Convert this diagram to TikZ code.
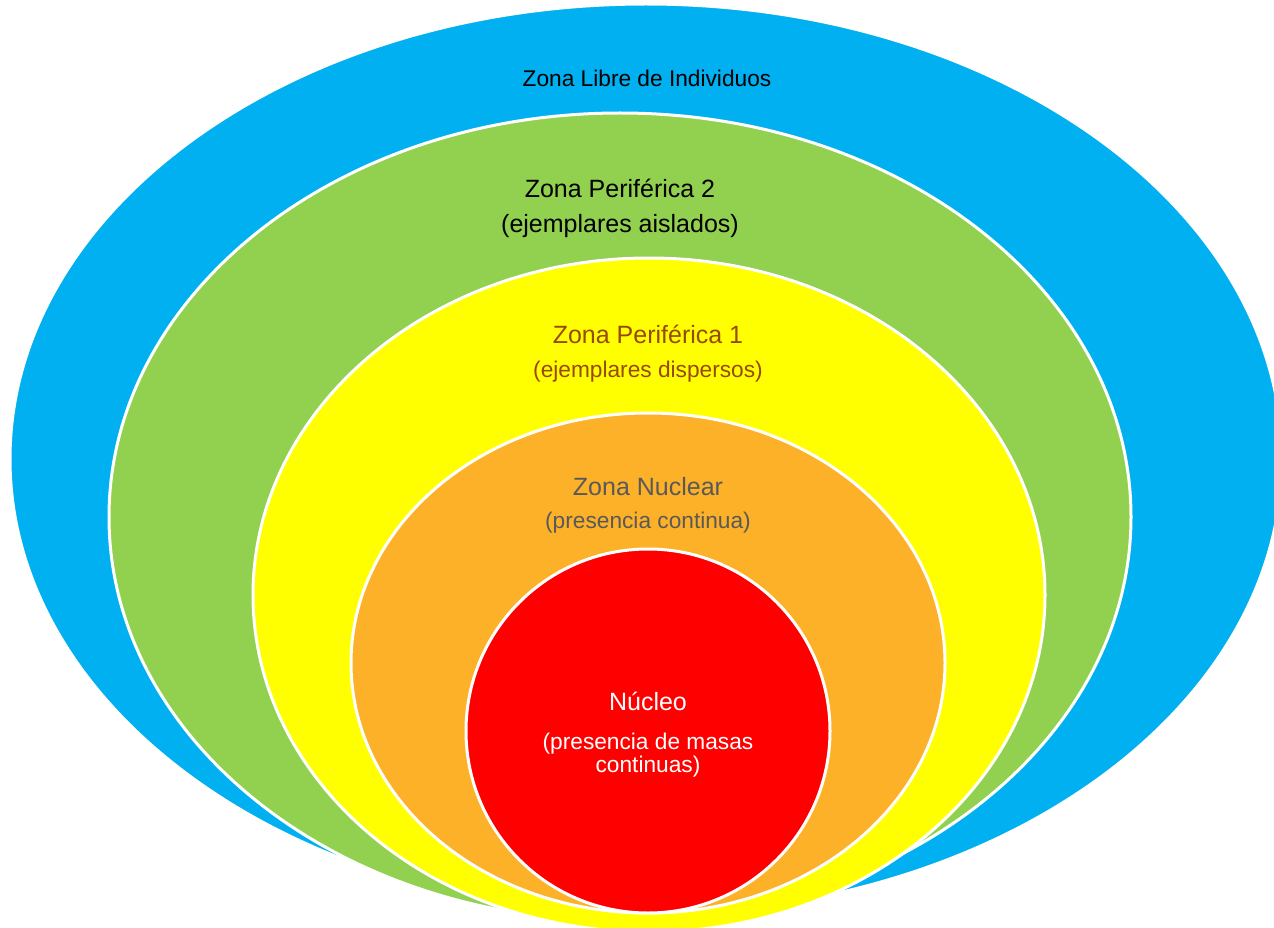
\documentclass[tikz,border=0pt]{standalone}
\usepackage{fontspec}
\setmainfont{Liberation Sans}
\definecolor{zblue}{HTML}{00B0F0}
\definecolor{zgreen}{HTML}{92D050}
\definecolor{zyellow}{HTML}{FFFF00}
\definecolor{zorange}{HTML}{FDB128}
\definecolor{zred}{HTML}{FF0000}
\definecolor{zbrown}{HTML}{984807}
\definecolor{zgray}{HTML}{595959}
\begin{document}
\begin{tikzpicture}[x=1pt,y=-1pt,
  zone/.style={draw=white,line width=3pt},
  titletext/.style={anchor=base,font=\fontsize{25}{27}\selectfont},
  subtext/.style={anchor=base,align=center,font=\fontsize{22.7}{23}\selectfont}]
\useasboundingbox (0,0) rectangle (1274,928);
\clip (0,0) rectangle (1274,928);
\path[zone,fill=zblue] (646,459) ellipse [x radius=636pt, y radius=455pt];
\path[zone,fill=zgreen] (620,517) ellipse [x radius=511pt, y radius=404pt];
\path[zone,fill=zyellow] (649,595) ellipse [x radius=396pt, y radius=337pt];
\path[zone,fill=zorange] (648,663) ellipse [x radius=297pt, y radius=250pt];
\path[zone,fill=zred] (648,731) circle [radius=182pt];
\node[subtext,text=black] (libre) at (647,87) {Zona Libre de Individuos};
\node[titletext,text=black] (p2) at (620,197) {Zona Periférica 2};
\node[titletext,text=black] (p2s) at (620,233) {(ejemplares aislados)};
\node[titletext,text=zbrown] (p1) at (648,343) {Zona Periférica 1};
\node[subtext,text=zbrown] (p1s) at (648,377) {(ejemplares dispersos)};
\node[titletext,text=zgray] (zn) at (648,495) {Zona Nuclear};
\node[subtext,text=zgray] (zns) at (648,528) {(presencia continua)};
\node[titletext,text=white] (nu) at (648,710) {Núcleo};
\node[subtext,text=white,anchor=north] (nus) at (648,730) {(presencia de masas\\continuas)};
\end{tikzpicture}
\end{document}
